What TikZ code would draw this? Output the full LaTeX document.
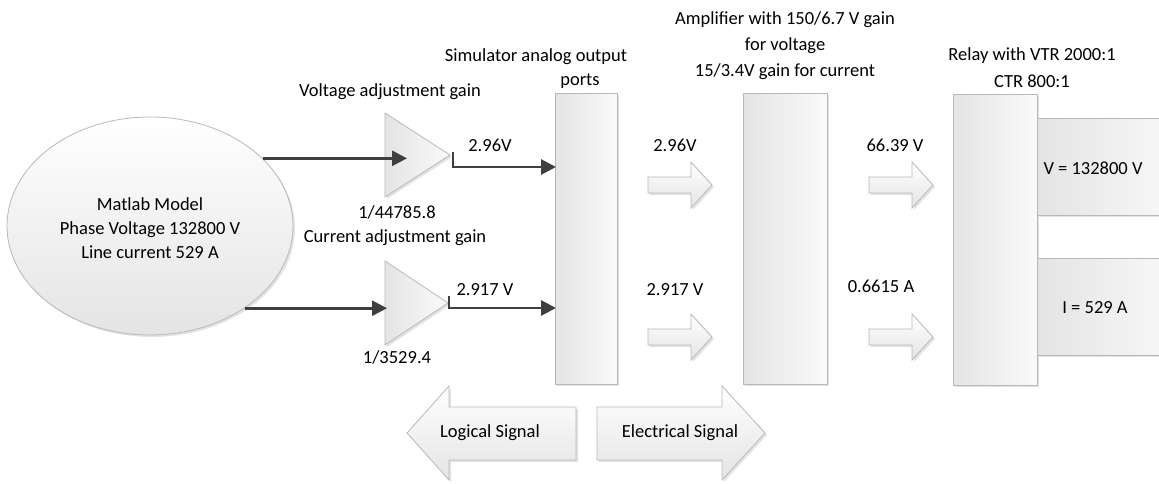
\documentclass[tikz,border=0pt]{standalone}
\usepackage{fontspec}
\setmainfont{Carlito}
\usetikzlibrary{arrows.meta,shadows,shapes.geometric}
\definecolor{lineC}{HTML}{3F3F3F}
\definecolor{edgeC}{HTML}{B8B8B8}
\definecolor{fillA}{HTML}{E4E4E4}
\definecolor{fillB}{HTML}{FAFAFA}
\begin{document}
\begin{tikzpicture}[x=1pt,y=-1pt,
  every node/.style={font=\fontsize{18.5}{24}\selectfont, text=black},
  shad/.style={drop shadow={shadow xshift=2pt,shadow yshift=-2pt,opacity=0.22}},
  box/.style={draw=edgeC, line width=0.8pt, left color=fillA, right color=fillB, shad, inner sep=0pt, anchor=north west},
  tri/.style={draw=edgeC, line width=0.8pt, left color=fillA, right color=fillB},
  blk/.style={draw=edgeC, line width=0.8pt, top color=white, bottom color=fillA, shad},
  conn/.style={draw=lineC, line width=2.8pt, -{Triangle[length=15pt,width=15pt]}},
  sarrow/.pic={\path[blk] (0,-8) -- (43,-8) -- (43,-23) -- (64,0) -- (43,23) -- (43,8) -- (0,8) -- cycle;}
]
\useasboundingbox (0,0) rectangle (1159,484);
\clip (0,0) rectangle (1159,484);

% Matlab ellipse
\node[ellipse, draw=edgeC, line width=0.8pt, top color=white, bottom color=fillA, shad,
      minimum width=286pt, minimum height=218pt, inner sep=0pt] (ell) at (150,226) {};
\node[align=center] (elltxt) at (150,228) {Matlab Model\\Phase Voltage 132800 V\\Line current 529 A};

% gain triangles
\coordinate (t1tip) at (450,155);
\coordinate (t2tip) at (448,303);
\path[tri, shad] (385,113) -- (t1tip) -- (385,197) -- cycle;
\path[tri, shad] (385,261) -- (t2tip) -- (385,345) -- cycle;
\node (vgain) at (390,92) {Voltage adjustment gain};
\node (vval) at (397,212) {1/44785.8};
\node (cgain) at (395,238) {Current adjustment gain};
\node (cval) at (397,357) {1/3529.4};

% boxes
\node[box, minimum width=62pt, minimum height=291pt] (sim) at (555,93) {};
\node[box, minimum width=84pt, minimum height=291pt] (amp) at (743,93) {};
\node[box, minimum width=84pt, minimum height=291pt] (relay) at (953,94) {};
\node[box, minimum width=150pt, minimum height=97pt] (vbox) at (1037,118) {};
\node[box, minimum width=150pt, minimum height=97pt] (ibox) at (1037,258) {};
\node (vtxt) at (1093,168) {V = 132800 V};
\node (itxt) at (1095,308) {I = 529 A};

% box titles
\node (simt1) at (536,57) {Simulator analog output};
\node (simt2) at (580,81) {ports};
\node[align=center, font=\fontsize{18.5}{26}\selectfont] (ampt) at (785,46)
  {Amplifier with 150/6.7 V gain\\for voltage\\15/3.4V gain for current};
\node[align=center, font=\fontsize{18.5}{27}\selectfont] (relt) at (1032,68)
  {Relay with VTR 2000:1\\CTR 800:1};

% connectors
\coordinate (t1in) at (407,157);
\coordinate (t2in) at (387,308);
\draw[conn] (ell.31.9) -- (ell.31.9 -| t1in);
\draw[conn] (ell.-41) -- (ell.-41 -| t2in);
\coordinate (t1out) at (453,152);
\coordinate (s1in) at (556,167);
\coordinate (t2out) at (449,296);
\coordinate (s2in) at (556,308);
\draw[conn] (t1out) |- (s1in);
\draw[conn] (t2out) |- (s2in);
\node (l1) at (490,145) {2.96V};
\node (l2) at (485,290) {2.917 V};

% small block arrows
\pic at (648,185) {sarrow};
\pic at (648,337) {sarrow};
\pic at (869,185) {sarrow};
\pic at (869,337) {sarrow};
\node (l3) at (675,145) {2.96V};
\node (l4) at (675,290) {2.917 V};
\node (l5) at (895,145) {66.39 V};
\node (l6) at (881,286) {0.6615 A};

% big arrows
\path[blk] (407,433) -- (449,386) -- (449,407) -- (576,407) -- (576,460) -- (449,460) -- (449,480) -- cycle;
\path[blk] (597,407) -- (722,407) -- (722,386) -- (765,433) -- (722,480) -- (722,460) -- (597,460) -- cycle;
\node (logi) at (490,433) {Logical Signal};
\node (elec) at (680,433) {Electrical Signal};
\end{tikzpicture}
\end{document}
